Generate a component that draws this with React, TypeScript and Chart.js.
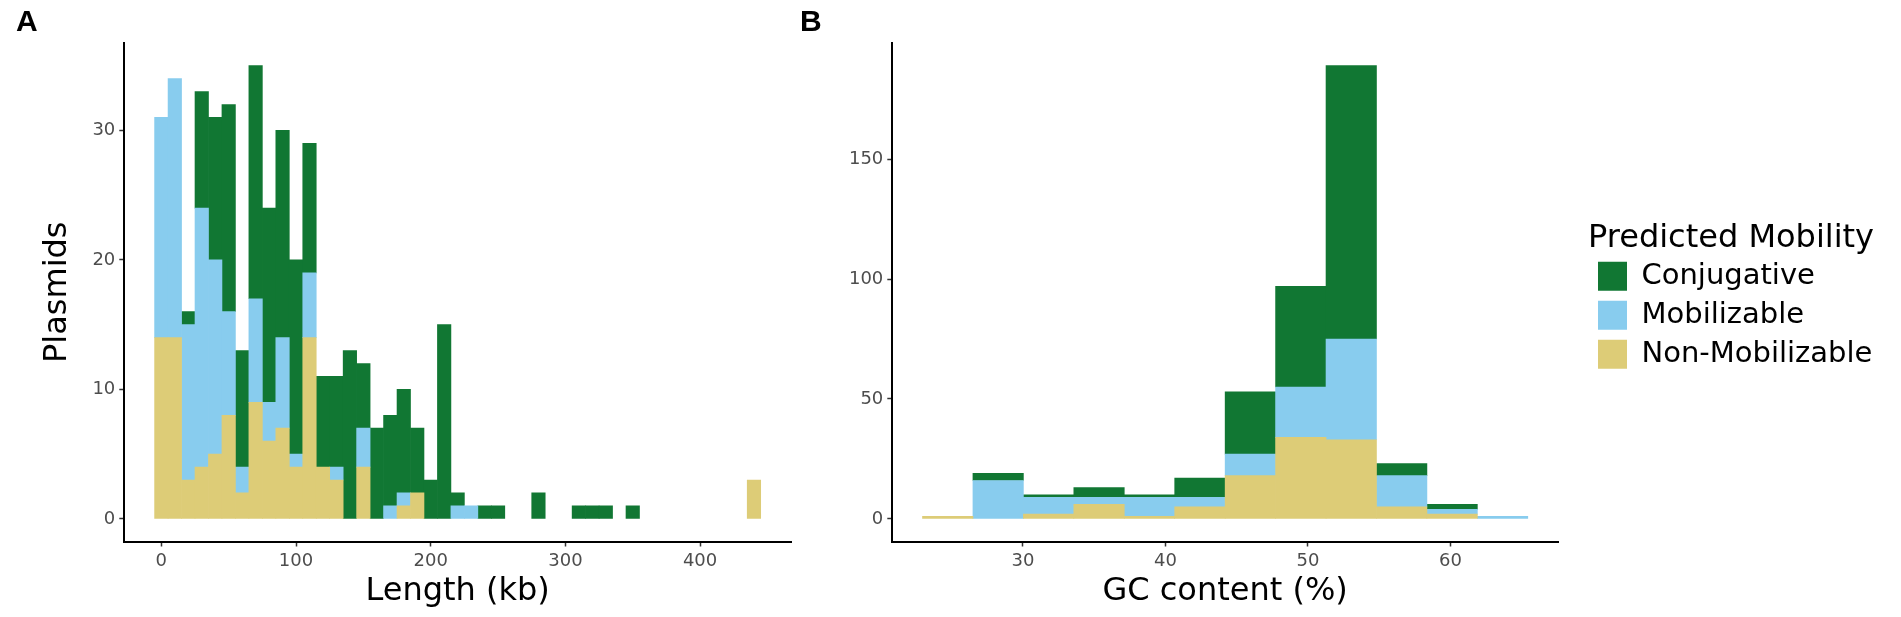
import { useEffect, useRef } from 'react';
import Chart from 'chart.js/auto';

const FONT = 'DejaVu Sans';
const GREEN = '#117733';
const BLUE = '#88CCEE';
const SAND = '#DDCC77';

// Panel A: plasmid length, 10 kb bins (bin centres, kb)
const lengthBins = [
  0, 10, 20, 30, 40, 50, 60, 70, 80, 90, 100, 110, 120, 130, 140, 150, 160, 170, 180, 190, 200, 210,
  220, 230, 240, 250, 260, 270, 280, 290, 300, 310, 320, 330, 340, 350, 360, 370, 380, 390, 400, 410,
  420, 430, 440,
];
const lengthConjugative = [
  0, 0, 1, 9, 11, 16, 9, 18, 15, 16, 15, 10, 7, 7, 13, 5, 7, 7, 8, 5, 3, 15, 1, 0, 1, 1, 0, 0, 2, 0,
  0, 1, 1, 1, 0, 1, 0, 0, 0, 0, 0, 0, 0, 0, 0,
];
const lengthMobilizable = [
  17, 20, 12, 20, 15, 8, 2, 8, 3, 7, 1, 5, 0, 1, 0, 3, 0, 1, 1, 0, 0, 0, 1, 1, 0, 0, 0, 0, 0, 0,
  0, 0, 0, 0, 0, 0, 0, 0, 0, 0, 0, 0, 0, 0, 0,
];
const lengthNonMobilizable = [
  14, 14, 3, 4, 5, 8, 2, 9, 6, 7, 4, 14, 4, 3, 0, 4, 0, 0, 1, 2, 0, 0, 0, 0, 0, 0, 0, 0, 0, 0,
  0, 0, 0, 0, 0, 0, 0, 0, 0, 0, 0, 0, 0, 0, 3,
];
const lengthTicksX = [0, 100, 200, 300, 400];
const lengthTicksY = [0, 10, 20, 30];

// Panel B: GC content, 12 bins (bin centres, %)
const gcBins = [24.72, 28.26, 31.8, 35.34, 38.88, 42.42, 45.96, 49.5, 53.04, 56.58, 60.12, 63.66];
const gcConjugative = [0, 3, 1, 4, 1, 8, 26, 42, 114, 5, 2, 0];
const gcMobilizable = [0, 16, 7, 3, 8, 4, 9, 21, 42, 13, 2, 1];
const gcNonMobilizable = [1, 0, 2, 6, 1, 5, 18, 34, 33, 5, 2, 0];
const gcTicksX = [30, 40, 50, 60];
const gcTicksY = [0, 50, 100, 150];

function stackedSets(bins: number[], non: number[], mob: number[], conj: number[]) {
  // empty bins are left out (null) so no hairline is drawn on the baseline
  const pts = (vals: number[]) => bins.map((x, i) => ({ x, y: vals[i] === 0 ? null : vals[i] }));
  // first dataset sits at the bottom of the stack
  return [
    { label: 'Non-Mobilizable', data: pts(non), backgroundColor: SAND, yAxisID: 'y' },
    { label: 'Mobilizable', data: pts(mob), backgroundColor: BLUE, yAxisID: 'y' },
    { label: 'Conjugative', data: pts(conj), backgroundColor: GREEN, yAxisID: 'y' },
  ];
}

function axis(ticks: number[], min: number, max: number) {
  return {
    type: 'linear' as const,
    stacked: true,
    min,
    max,
    offset: false,
    border: { display: true, color: '#000', width: 2 },
    grid: {
      display: true,
      offset: false,
      drawOnChartArea: false,
      drawTicks: true,
      tickLength: 5,
      tickWidth: 1.5,
      tickColor: '#333',
    },
    ticks: { autoSkip: false, maxRotation: 0, padding: 4, color: '#4d4d4d', font: { family: FONT, size: 18 } },
    afterBuildTicks: (scale: any) => {
      scale.ticks = ticks.map((value) => ({ value }));
    },
  };
}

function axisTitle(text: string, padding: { top: number; bottom: number }) {
  return { display: true, text, color: '#000', font: { family: FONT, size: 32 }, padding };
}

function panelTitle(text: string) {
  return {
    display: true,
    text,
    align: 'start' as const,
    color: '#000',
    font: { family: 'Liberation Sans', size: 30, weight: 'bold' as const },
    padding: { top: 5, bottom: 2 },
  };
}

export default function App() {
  const refA = useRef<HTMLCanvasElement>(null);
  const refB = useRef<HTMLCanvasElement>(null);

  useEffect(() => {
    if (!refA.current || !refB.current) return;

    const charts: Chart[] = [];

    charts.push(
      new Chart(refA.current, {
        type: 'bar',
        data: { datasets: stackedSets(lengthBins, lengthNonMobilizable, lengthMobilizable, lengthConjugative) },
        options: {
          animation: false,
          responsive: false,
          layout: { padding: { left: 16, right: 9, top: 0, bottom: 0 } },
          datasets: { bar: { barPercentage: 1, categoryPercentage: 1, borderWidth: 0 } },
          plugins: {
            legend: { display: false },
            tooltip: { enabled: false },
            title: panelTitle('A'),
          },
          scales: {
            x: {
              ...axis(lengthTicksX, -27.5, 467.5),
              title: axisTitle('Length (kb)', { top: 0, bottom: 6 }),
              afterFit: (s: any) => {
                s.height = 75.5;
              },
            },
            y: {
              ...axis(lengthTicksY, -1.75, 36.75),
              title: axisTitle('Plasmids', { top: 22, bottom: 0 }),
              afterFit: (s: any) => {
                s.width = 108.3;
              },
            },
          },
        },
      })
    );

    // legend sizing: measure the labels so the legend box sits where it should
    const legendLabels = ['Conjugative', 'Mobilizable', 'Non-Mobilizable'];
    const m = document.createElement('canvas').getContext('2d')!;
    m.font = `29px ${FONT}`;
    const itemW = Math.max(...legendLabels.map((t) => 29 + 29 / 2 + m.measureText(t).width));
    m.font = `32px ${FONT}`;
    const titleW = m.measureText('Predicted Mobility').width;
    const legendW = Math.ceil(Math.max(itemW + 20, titleW + 6));
    const legendLeft = 788;
    const padRight = Math.max(0, 1101 - legendLeft - legendW);
    const gapW = Math.max(0, 1101 - padRight - legendW - 758);

    const legendWidth = {
      id: 'legendWidth',
      afterInit(chart: any) {
        const lg = chart.legend;
        if (!lg) return;
        const fit = lg.fit.bind(lg);
        lg.fit = () => {
          fit();
          lg.width = legendW;
        };
      },
    };

    charts.push(
      new Chart(refB.current, {
        type: 'bar',
        data: { datasets: stackedSets(gcBins, gcNonMobilizable, gcMobilizable, gcConjugative) },
        plugins: [legendWidth],
        options: {
          animation: false,
          responsive: false,
          layout: { padding: { left: 0, right: padRight, top: 0, bottom: 0 } },
          datasets: { bar: { barPercentage: 1, categoryPercentage: 1, borderWidth: 0 } },
          plugins: {
            tooltip: { enabled: false },
            title: panelTitle('B'),
            legend: {
              position: 'right',
              fullSize: false,
              reverse: true,
              labels: {
                boxWidth: 29,
                boxHeight: 29,
                padding: 10,
                color: '#000',
                font: { family: FONT, size: 29 },
              },
              title: {
                display: true,
                text: 'Predicted Mobility',
                color: '#000',
                position: 'start',
                font: { family: FONT, size: 32, lineHeight: 0.9 },
                padding: { top: 17, bottom: 0 },
              },
            },
          },
          scales: {
            x: {
              ...axis(gcTicksX, 20.83, 67.55),
              title: axisTitle('GC content (%)', { top: 0, bottom: 6 }),
              afterFit: (s: any) => {
                s.height = 75.5;
              },
            },
            y: {
              ...axis(gcTicksY, -9.45, 198.45),
              afterFit: (s: any) => {
                s.width = 92.3;
              },
            },
            // empty spacer between the panel and the legend
            gap: {
              type: 'linear',
              position: 'right',
              display: true,
              grid: { display: false },
              border: { display: false },
              ticks: { display: false },
              afterFit: (s: any) => {
                s.width = gapW;
              },
            },
          },
        },
      })
    );

    return () => {
      charts.forEach((c) => c.destroy());
    };
  }, []);

  return (
    <div style={{ position: 'absolute', left: 0, top: 0, width: 1901, height: 617, background: '#fff' }}>
      <canvas
        ref={refA}
        width={800}
        height={617}
        style={{ position: 'absolute', left: 0, top: 0, width: 800, height: 617 }}
      />
      <canvas
        ref={refB}
        width={1101}
        height={617}
        style={{ position: 'absolute', left: 800, top: 0, width: 1101, height: 617 }}
      />
    </div>
  );
}
